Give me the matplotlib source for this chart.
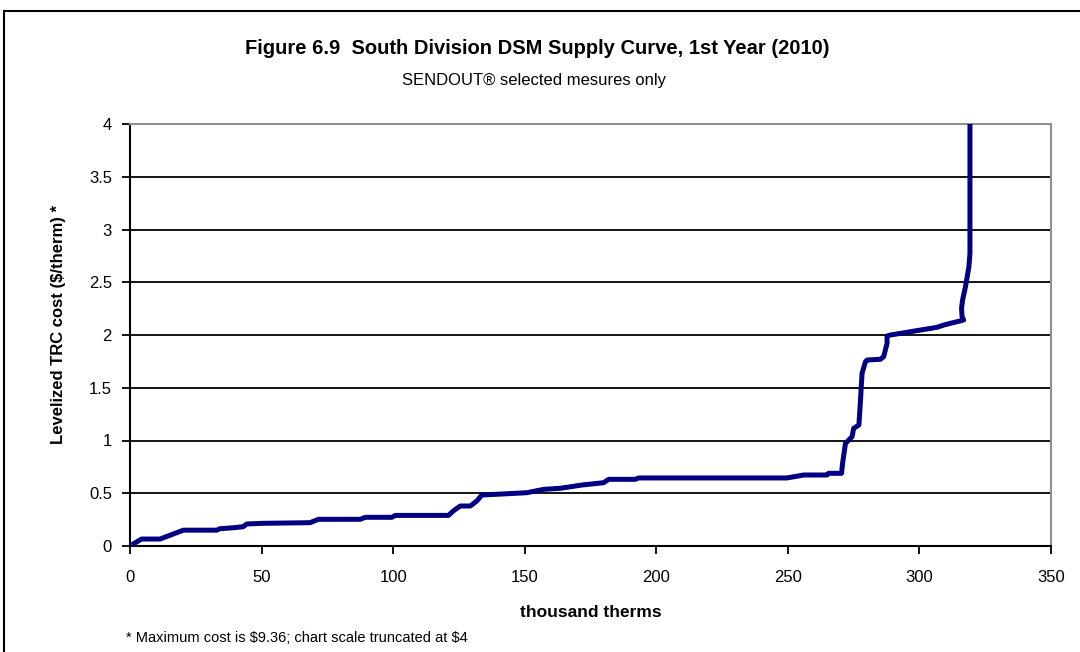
import matplotlib
matplotlib.use("Agg")
import matplotlib.pyplot as plt
from matplotlib.patches import Rectangle

plt.rcParams['font.family'] = ['Liberation Sans', 'DejaVu Sans']

# cumulative savings (thousand therms) and levelized TRC cost ($/therm)
therms = [0.6, 4.4, 11.4, 20.3, 33.0, 34.2, 39.3, 43.0, 44.4, 50.7, 68.4, 71.6, 87.5,
          89.4, 99.5, 100.8, 110.3, 114.0, 121.0, 123.0, 125.5, 129.3, 131.8, 133.7,
          150.8, 157.2, 163.5, 171.7, 180.0, 181.9, 192.0, 193.3, 216.7, 249.7, 256.0,
          264.9, 265.5, 270.4, 270.8, 271.9, 274.4, 275.0, 277.0, 277.6, 278.2, 279.5,
          280.1, 285.2, 286.4, 287.7, 287.7, 289.0, 306.7, 309.3, 316.8, 316.2, 316.0,
          316.4, 317.5, 318.8, 319.2, 319.2]
cost = [0.01, 0.066, 0.066, 0.15, 0.15, 0.164, 0.173, 0.183, 0.209, 0.215, 0.221, 0.253,
        0.253, 0.272, 0.272, 0.29, 0.29, 0.29, 0.29, 0.335, 0.379, 0.379, 0.427, 0.483,
        0.505, 0.537, 0.547, 0.578, 0.60, 0.632, 0.632, 0.645, 0.645, 0.645, 0.673,
        0.673, 0.689, 0.689, 0.784, 0.973, 1.036, 1.115, 1.147, 1.384, 1.637, 1.747,
        1.763, 1.77, 1.794, 1.921, 1.99, 2.0, 2.073, 2.095, 2.142, 2.174, 2.253, 2.332,
        2.458, 2.647, 2.774, 9.36]

x_ticks = [0, 50, 100, 150, 200, 250, 300, 350]
y_ticks = [0, 0.5, 1, 1.5, 2, 2.5, 3, 3.5, 4]
y_ticklabels = ['0', '0.5', '1', '1.5', '2', '2.5', '3', '3.5', '4']

W, H = 1080, 652
fig = plt.figure(figsize=(W / 100, H / 100), dpi=100)
fig.patch.set_facecolor('white')

# outer chart border
fig.patches.append(Rectangle((4 / W, 1 - 660 / H), (1090 - 4) / W, (660 - 11) / H,
                             transform=fig.transFigure, fill=False, edgecolor='black',
                             linewidth=1.5, clip_on=False))

left, right, top, bottom = 130, 1051, 124, 546
ax = fig.add_axes([left / W, 1 - bottom / H, (right - left) / W, (bottom - top) / H])

ax.plot(therms, cost, color='#000080', linewidth=3.6, solid_capstyle='butt',
        solid_joinstyle='round', zorder=3, clip_on=True)

ax.set_xlim(0, 350)
ax.set_ylim(0, 4)
ax.set_xticks(x_ticks)
ax.set_xticklabels([str(v) for v in x_ticks])
ax.set_yticks(y_ticks)
ax.set_yticklabels(y_ticklabels)

for yv in y_ticks[1:-1]:
    ax.axhline(yv, color='black', linewidth=1.3, zorder=1)

ax.spines['left'].set_color('black')
ax.spines['left'].set_linewidth(1.5)
ax.spines['bottom'].set_color('black')
ax.spines['bottom'].set_linewidth(1.5)
ax.spines['top'].set_color('#909090')
ax.spines['top'].set_linewidth(1.5)
ax.spines['right'].set_color('#909090')
ax.spines['right'].set_linewidth(1.5)

ax.tick_params(axis='both', direction='out', length=6, width=1.3, colors='black',
               labelsize=12)
ax.tick_params(axis='x', pad=11.5)
ax.tick_params(axis='y', pad=7)

ax.set_xlabel('thousand therms', fontsize=12.5, fontweight='bold', labelpad=14)
ax.set_ylabel('Levelized TRC cost (\\$/therm) *', fontsize=12, fontweight='bold',
              va='center')
ax.yaxis.set_label_coords(-72 / (right - left), (bottom - 325) / (bottom - top))

fig.text(537 / W, 1 - 48 / H, 'Figure 6.9  South Division DSM Supply Curve, 1st Year (2010)',
         ha='center', va='center', fontsize=14.5, fontweight='bold')
fig.text(534 / W, 1 - 80 / H, 'SENDOUT® selected mesures only',
         ha='center', va='center', fontsize=12)
fig.text(126 / W, 1 - 638 / H, '* Maximum cost is \\$9.36; chart scale truncated at \\$4',
         ha='left', va='center', fontsize=10.5)

fig.savefig('out.png', dpi=100)
